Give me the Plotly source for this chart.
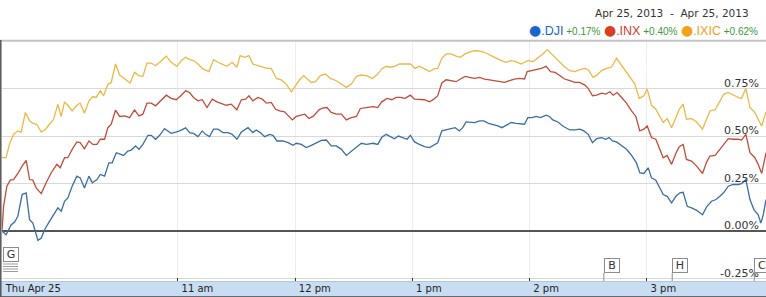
import plotly.graph_objects as go

# ---------------- data (minutes after 9:30 open, % change) ----------------
dji_t = [0, 2.1, 4.7, 6.4, 8.1, 10.3, 12.4, 14.1, 15.8, 18.4, 20.1, 21.8, 24.3, 26.9, 28.6, 30.3, 32.0, 33.7, 35.9, 38.3,
         40.0, 42.2, 44.5, 46.2, 48.6, 50.3, 52.5, 54.7, 56.4, 58.5, 60.5, 62.2, 64.4, 66.1, 68.4, 70.1, 72.1, 74.7, 76.4, 78.6,
         80.7, 83.2, 84.9, 86.6, 88.9, 90.9, 94.0,
         96.0, 98.0, 100.3, 102.5, 104.2, 106.2, 108.3, 110.5, 113.1, 115.6, 117.8, 120.2, 122.5, 125.9, 128.4, 130.1, 132.2, 134.4, 137.0, 138.7,
         140.7, 143.8, 146.4, 148.9, 150.6, 153.2, 155.7, 158.3, 160.9, 163.4, 166.0, 168.5, 171.1, 173.7, 176.2, 178.8, 181.4, 183.9, 186.5, 189.9,
         192.3, 194.3, 196.6, 198.8, 200.8, 202.9, 205.1, 207.3, 209.0, 211.1, 213.6, 216.2, 218.8, 221.0, 223.0, 225.1, 227.3, 229.9, 231.9, 234.1,
         235.8, 237.5, 239.8, 241.8, 244.4, 246.6, 249.0, 251.2, 253.8, 255.8, 258.0, 260.6, 263.1, 264.8, 267.4, 269.1, 271.2, 273.4, 275.6, 278.5,
         280.2, 281.9, 284.5, 287.0,
         290.6, 293.2, 295.7, 297.8, 300.0, 302.2, 304.3, 306.8, 309.0, 310.7, 312.4, 314.5, 317.1, 319.6, 322.2, 324.7, 326.4, 328.5, 330.7, 332.4,
         334.6, 336.3, 338.4, 340.4, 342.7, 344.9, 346.9, 348.6, 350.7, 352.9, 355.5, 358.5, 360.6, 363.1, 365.4, 367.4, 369.5, 371.7, 374.2, 376.8,
         378.5, 380.7, 382.8, 384.8, 387.0, 388.4, 389.6, 391.0]
dji_pct = [0.0, -0.019, 0.033, 0.046, 0.078, 0.192, 0.201, 0.060, 0.042, -0.049, -0.037, 0.007, 0.051, 0.095, 0.122, 0.104, 0.157, 0.174, 0.236, 0.289,
           0.280, 0.227, 0.289, 0.254, 0.271, 0.298, 0.289, 0.359, 0.359, 0.412, 0.403, 0.398, 0.421, 0.426, 0.448, 0.430, 0.456, 0.504, 0.504, 0.483,
           0.504, 0.539, 0.527, 0.514, 0.521, 0.527, 0.543,
           0.518, 0.514, 0.497, 0.527, 0.509, 0.497, 0.536, 0.536, 0.518, 0.518, 0.509, 0.483, 0.521, 0.544, 0.518, 0.532, 0.518, 0.497, 0.509, 0.504,
           0.474, 0.474, 0.465, 0.451, 0.462, 0.456, 0.439, 0.451, 0.465, 0.477, 0.479, 0.448, 0.448, 0.430, 0.398, 0.421, 0.439, 0.462, 0.456, 0.462,
           0.456, 0.492, 0.509, 0.497, 0.486, 0.500, 0.492, 0.483, 0.504, 0.469, 0.456, 0.444, 0.439, 0.451, 0.465, 0.527, 0.532, 0.539, 0.544, 0.527,
           0.544, 0.574, 0.574, 0.571, 0.580, 0.580, 0.567, 0.562, 0.553, 0.544, 0.557, 0.571, 0.567, 0.566, 0.562, 0.597, 0.597, 0.603, 0.597, 0.610,
           0.603, 0.585, 0.574, 0.553,
           0.532, 0.532, 0.536, 0.527, 0.509, 0.465, 0.486, 0.492, 0.483, 0.492, 0.474, 0.469, 0.451, 0.430, 0.398, 0.359, 0.307, 0.303, 0.333, 0.280,
           0.268, 0.236, 0.192, 0.183, 0.148, 0.183, 0.201, 0.204, 0.130, 0.122, 0.109, 0.086, 0.127, 0.157, 0.166, 0.183, 0.204, 0.236, 0.245, 0.245,
           0.250, 0.271, 0.166, 0.113, 0.086, 0.042, 0.086, 0.166]

inx_t = [0, 0.8, 2.5, 4.2, 5.9, 8.1, 10.3, 12.4, 14.1, 15.8, 17.5, 20.1, 22.6, 25.2, 28.1, 29.8, 32.0, 33.7, 35.9, 38.3,
         40.0, 42.2, 44.5, 46.5, 48.6, 50.3, 52.5, 54.2, 55.9, 58.1, 60.2, 62.7, 65.3, 67.8, 70.1, 72.1, 74.2, 76.4, 78.6, 81.0,
         84.1, 86.6, 89.2, 91.8, 94.0,
         96.0, 98.0, 100.3, 102.5, 104.9, 107.6, 110.0, 112.2, 114.8, 117.3, 120.2, 122.5, 124.7, 126.4, 128.4, 131.0, 133.2, 135.3, 137.8, 140.0,
         142.1, 144.6, 147.2, 148.6, 150.6, 153.2, 154.9, 157.1, 159.5, 162.2, 164.3, 166.3, 168.5, 171.1, 173.7, 176.2, 178.8, 181.4, 183.4, 186.5,
         189.9,
         192.3, 194.3, 197.1, 199.5, 201.7, 203.9, 206.3, 209.0, 211.1, 213.6, 216.2, 218.8, 221.0, 223.0, 225.1, 227.3, 229.9, 232.4, 234.6, 237.0,
         239.2, 241.8, 244.4, 246.9, 249.5, 252.0, 254.6, 257.2, 259.7, 262.3, 264.8, 267.4, 268.8, 271.2, 273.9, 276.0, 278.5, 280.7, 283.1, 285.3,
         287.9,
         290.6, 293.2, 295.7, 298.3, 300.0, 302.2, 304.3, 306.8, 309.0, 311.1, 312.8, 314.8, 317.1, 319.6, 322.2, 324.4, 326.4, 328.5, 330.2, 332.4,
         334.6, 336.3, 338.4, 340.4, 342.7, 344.9, 346.6, 348.6, 350.3, 352.9, 355.5, 358.5, 360.6, 362.3, 364.9, 367.4, 369.5, 371.7, 374.2, 376.8,
         378.5, 380.7, 382.8, 385.3, 387.0, 388.8, 391.0]
inx_pct = [0.0, 0.130, 0.236, 0.268, 0.271, 0.303, 0.342, 0.372, 0.271, 0.268, 0.227, 0.197, 0.254, 0.307, 0.351, 0.333, 0.386, 0.386, 0.430, 0.469,
           0.465, 0.433, 0.474, 0.456, 0.456, 0.483, 0.483, 0.544, 0.562, 0.636, 0.603, 0.606, 0.597, 0.638, 0.606, 0.615, 0.673, 0.673, 0.659, 0.685,
           0.715, 0.698, 0.691, 0.715, 0.738,
           0.729, 0.703, 0.685, 0.691, 0.650, 0.694, 0.680, 0.673, 0.662, 0.668, 0.638, 0.691, 0.694, 0.712, 0.685, 0.703, 0.694, 0.673, 0.677, 0.641,
           0.632, 0.627, 0.597, 0.585, 0.603, 0.610, 0.615, 0.592, 0.606, 0.638, 0.648, 0.650, 0.624, 0.615, 0.615, 0.585, 0.597, 0.603, 0.645, 0.650,
           0.655,
           0.650, 0.680, 0.698, 0.691, 0.703, 0.703, 0.698, 0.715, 0.694, 0.694, 0.691, 0.680, 0.694, 0.712, 0.779, 0.796, 0.791, 0.786, 0.800, 0.814,
           0.809, 0.803, 0.809, 0.800, 0.796, 0.791, 0.786, 0.782, 0.791, 0.800, 0.803, 0.800, 0.839, 0.844, 0.849, 0.856, 0.867, 0.839, 0.835, 0.818,
           0.800,
           0.791, 0.782, 0.782, 0.768, 0.751, 0.712, 0.715, 0.726, 0.721, 0.733, 0.715, 0.729, 0.703, 0.673, 0.632, 0.603, 0.527, 0.536, 0.553, 0.492,
           0.483, 0.439, 0.386, 0.398, 0.351, 0.409, 0.444, 0.456, 0.377, 0.368, 0.342, 0.303, 0.363, 0.395, 0.398, 0.430, 0.456, 0.486, 0.483, 0.483,
           0.479, 0.509, 0.412, 0.386, 0.351, 0.303, 0.412]

ixic_t = [0, 2.1, 3.8, 5.9, 8.1, 9.8, 12.0, 14.1, 15.8, 17.8, 20.1, 22.3, 24.3, 26.4, 28.6, 30.3, 32.0, 33.7, 35.9, 38.3,
          40.0, 42.2, 44.5, 46.5, 48.2, 50.3, 52.0, 54.2, 55.9, 58.1, 60.2, 62.7, 65.6, 67.8, 70.1, 72.1, 74.2, 76.4, 78.6, 81.0,
          84.1, 86.6, 89.5, 91.8, 94.0,
          96.0, 98.0, 100.3, 102.8, 105.9, 108.3, 110.5, 113.1, 115.1, 117.8, 120.2, 121.9, 124.2, 126.4, 128.4, 131.0, 133.2, 135.6, 137.8, 140.4,
          142.9, 145.5, 148.1, 150.3, 152.3, 154.4, 156.1, 158.3, 160.5, 162.9, 165.6, 168.0, 171.1, 173.7, 176.2, 178.8, 181.4, 183.9, 186.5, 189.5,
          192.3, 194.3, 196.6, 198.8, 200.8, 203.4, 206.0, 209.0, 211.4, 213.6, 216.2, 218.8, 221.0, 223.0, 225.1, 227.3, 229.9, 232.4, 234.6, 237.0,
          239.8, 242.7, 245.6, 247.8, 250.3, 252.9, 255.5, 258.0, 260.6, 263.1, 265.7, 267.4, 269.1, 271.7, 274.2, 276.8, 279.0, 280.7, 283.1, 285.3,
          287.6,
          290.6, 293.2, 295.7, 298.3, 300.0, 302.5, 304.6, 306.8, 309.4, 311.9, 314.5, 316.5, 318.8, 321.3, 323.9, 326.1, 328.5, 330.2, 332.4, 334.6,
          336.7, 338.4, 340.4, 342.7, 344.9, 346.6, 348.6, 350.3, 352.9, 355.5, 358.5, 360.6, 362.3, 364.9, 367.4, 369.5, 371.7, 374.2, 376.8, 378.5,
          380.7, 382.8, 385.3, 387.0, 388.8, 391.0]
ixic_pct = [0.386, 0.386, 0.456, 0.509, 0.527, 0.521, 0.624, 0.580, 0.567, 0.562, 0.521, 0.536, 0.562, 0.588, 0.668, 0.603, 0.680, 0.662, 0.632, 0.662,
            0.673, 0.620, 0.685, 0.708, 0.703, 0.738, 0.712, 0.773, 0.782, 0.879, 0.821, 0.803, 0.779, 0.835, 0.818, 0.814, 0.884, 0.884, 0.870, 0.891,
            0.920, 0.888, 0.867, 0.897, 0.914,
            0.902, 0.897, 0.879, 0.853, 0.839, 0.902, 0.888, 0.874, 0.867, 0.888, 0.862, 0.923, 0.914, 0.923, 0.879, 0.870, 0.862, 0.856, 0.856, 0.803,
            0.796, 0.773, 0.733, 0.768, 0.796, 0.818, 0.800, 0.782, 0.786, 0.818, 0.826, 0.803, 0.791, 0.773, 0.756, 0.773, 0.814, 0.821, 0.818, 0.803,
            0.826, 0.853, 0.867, 0.862, 0.867, 0.879, 0.879, 0.879, 0.856, 0.867, 0.853, 0.839, 0.853, 0.856, 0.909, 0.932, 0.932, 0.920, 0.914, 0.932,
            0.944, 0.950, 0.944, 0.937, 0.923, 0.909, 0.897, 0.888, 0.897, 0.891, 0.879, 0.888, 0.897, 0.891, 0.909, 0.932, 0.955, 0.937, 0.914, 0.891,
            0.867,
            0.844, 0.839, 0.849, 0.856, 0.849, 0.809, 0.821, 0.844, 0.856, 0.862, 0.909, 0.879, 0.844, 0.809, 0.773, 0.698, 0.712, 0.747, 0.662, 0.641,
            0.603, 0.571, 0.592, 0.544, 0.597, 0.641, 0.668, 0.588, 0.592, 0.574, 0.536, 0.592, 0.632, 0.638, 0.680, 0.721, 0.729, 0.715, 0.703, 0.698,
            0.751, 0.650, 0.624, 0.588, 0.553, 0.627]

assert len(dji_t) == len(dji_pct), (len(dji_t), len(dji_pct))
assert len(inx_t) == len(inx_pct), (len(inx_t), len(inx_pct))
assert len(ixic_t) == len(ixic_pct), (len(ixic_t), len(ixic_pct))

series_names = [".DJI", ".INX", ".IXIC"]
series_changes = ["+0.17%", "+0.40%", "+0.62%"]
date_range_text = "Apr 25, 2013  -  Apr 25, 2013"

tick_minutes = [0, 90, 150, 210, 270, 330]
tick_labels = ["Thu Apr 25", "11 am", "12 pm", "1 pm", "2 pm", "3 pm"]
y_ticks = [-0.25, 0.0, 0.25, 0.50, 0.75, 1.00]
y_tick_labels = ["-0.25%", "0.00%", "0.25%", "0.50%", "0.75%", "1.00%"]

flag_labels = ["G", "B", "H", "C"]
flag_minutes = [0, 308, 343, 385]

# ---------------- styling ----------------
line_colors = ["#3b6ea5", "#c24d3a", "#ecb848"]
dot_colors = ["#1a66cc", "#d8401f", "#f2a31c"]
name_colors = ["#2563c4", "#cc3d1f", "#f0a020"]
green = "#3a9a3a"

W, H = 766, 297
ML, MR, MT, MB = 2, 0, 40, 16
PW, PH = W - ML - MR, H - MT - MB


def px_x(p):
    return (p - ML) / PW


def px_y(p):
    return (H - MB - p) / PH


fig = go.Figure()
for t, v, c, n in zip([dji_t, inx_t, ixic_t], [dji_pct, inx_pct, ixic_pct], line_colors, series_names):
    fig.add_trace(go.Scatter(x=t, y=v, mode="lines", name=n,
                             line=dict(color=c, width=1.3), hoverinfo="skip"))

shapes = []
# blue axis band under the plot
shapes.append(dict(type="rect", xref="paper", yref="paper", x0=px_x(0), x1=px_x(W), y0=px_y(H), y1=px_y(H - MB),
                   fillcolor="#c8dcf2", line=dict(width=0), layer="below"))
shapes.append(dict(type="line", xref="paper", yref="paper", x0=px_x(0), x1=px_x(W), y0=px_y(H - MB + 0.5), y1=px_y(H - MB + 0.5),
                   line=dict(color="#aec6e4", width=1), layer="below"))
shapes.append(dict(type="line", xref="paper", yref="paper", x0=px_x(0), x1=px_x(W), y0=px_y(H - 0.5), y1=px_y(H - 0.5),
                   line=dict(color="#6a6a6a", width=1), layer="above"))
# white cover above plot and top border
shapes.append(dict(type="rect", xref="paper", yref="paper", x0=px_x(0), x1=px_x(W), y0=px_y(MT - 0.5), y1=px_y(0),
                   fillcolor="white", line=dict(width=0), layer="above"))
shapes.append(dict(type="line", xref="paper", yref="paper", x0=px_x(0), x1=px_x(W), y0=px_y(MT + 0.5), y1=px_y(MT + 0.5),
                   line=dict(color="#c4c4c4", width=1.5), layer="above"))
# left frame
shapes.append(dict(type="line", xref="paper", yref="paper", x0=px_x(0.8), x1=px_x(0.8), y0=px_y(MT), y1=px_y(H),
                   line=dict(color="#555555", width=1.5), layer="above"))

annotations = []
annotations.append(dict(xref="paper", yref="paper", x=px_x(751), y=px_y(13), xanchor="right", yanchor="middle",
                        text=date_range_text.replace(" ", "\u00a0"), showarrow=False,
                        font=dict(family="DejaVu Sans", size=10.5, color="#333333")))
parts = []
for n, ch, dc, nc in zip(series_names, series_changes, dot_colors, name_colors):
    parts.append(f'<span style="font-family:DejaVu Sans;font-size:14px;color:{dc}">\u25cf</span>'
                 f'<span style="color:{nc};font-size:12.5px">{n}</span>'
                 f'<span style="color:{green};font-size:10px">\u00a0{ch}</span>')
annotations.append(dict(xref="paper", yref="paper", x=px_x(760), y=px_y(30.5), xanchor="right", yanchor="middle",
                        text="\u00a0".join(parts), showarrow=False,
                        font=dict(family="Liberation Sans", size=12.5, color="#333333")))

# y tick labels, sitting just above their gridlines at the right edge
for yv, yl in zip(y_ticks, y_tick_labels):
    if yv >= 1.0:
        continue
    annotations.append(dict(xref="paper", yref="y", x=1, y=yv, xanchor="right", yanchor="middle",
                            xshift=-5, yshift=5.5, text=yl, showarrow=False,
                            font=dict(family="DejaVu Sans", size=11, color="#333333")))

# event flags
for lab, m in zip(flag_labels, flag_minutes):
    if lab == "G":
        top, bot = 247, 262
    else:
        top, bot = 257, 273
    annotations.append(dict(xref="x", yref="paper", x=m, y=px_y((top + bot) / 2), xanchor="left", yanchor="middle",
                            xshift=1 if lab == "G" else 0,
                            text=lab, showarrow=False, width=12, height=11, borderpad=1, borderwidth=1,
                            bordercolor="#8c8c8c", bgcolor="white",
                            font=dict(family="DejaVu Sans", size=11, color="#333333")))
    if lab == "G":
        for yy in [264, 266.5, 269, 271.5]:
            shapes.append(dict(type="line", xref="paper", yref="paper", x0=px_x(3), x1=px_x(18), y0=px_y(yy), y1=px_y(yy),
                               line=dict(color="#9a9a9a", width=1)))
    else:
        shapes.append(dict(type="line", xref="x", yref="paper", x0=m, x1=m, y0=0, y1=px_y(bot),
                           line=dict(color="#8c8c8c", width=1)))

fig.update_layout(
    width=W, height=H, margin=dict(l=ML, r=MR, t=MT, b=MB),
    paper_bgcolor="white", plot_bgcolor="white", showlegend=False,
    shapes=shapes, annotations=annotations,
    xaxis=dict(range=[0, 391], tickvals=tick_minutes, ticktext=["\u00a0" + s for s in tick_labels],
               ticks="inside", ticklen=3, tickcolor="#333333", tickwidth=1,
               ticklabelposition="outside right",
               showgrid=True, gridcolor="#ededed", gridwidth=1, zeroline=False, showline=False,
               tickfont=dict(family="DejaVu Sans", size=10, color="#222222"), fixedrange=True),
    yaxis=dict(range=[-0.2627, 1.0053], tickvals=y_ticks, showticklabels=False, ticks="",
               showgrid=True, gridcolor="#d9d9d9", gridwidth=1,
               zeroline=True, zerolinecolor="#555555", zerolinewidth=1.5, showline=False, fixedrange=True),
)

fig.write_html("out.html")
